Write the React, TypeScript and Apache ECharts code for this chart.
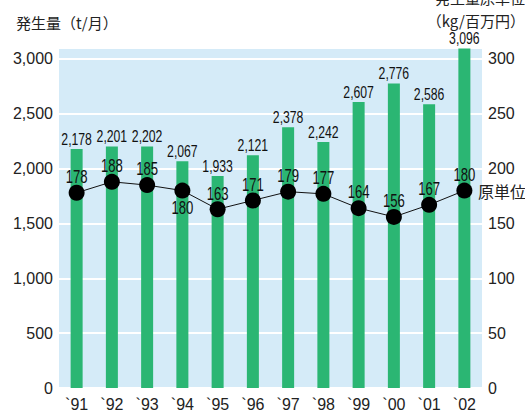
import React, { useEffect, useRef } from "react";
import * as echarts from "echarts";

const categories = ["`91", "`92", "`93", "`94", "`95", "`96", "`97", "`98", "`99", "`00", "`01", "`02"];
const amounts = [2178, 2201, 2202, 2067, 1933, 2121, 2378, 2242, 2607, 2776, 2586, 3096];
const intensity = [178, 188, 185, 180, 163, 171, 179, 177, 164, 156, 167, 180];
const belowLabelIndex = [3];

const NUM_FONT = "'Liberation Sans', Arial, sans-serif";
const JP_FONT = "'Noto Sans CJK JP', sans-serif";

export default function App() {
  const ref = useRef<HTMLDivElement>(null);
  useEffect(() => {
    if (!ref.current) return;
    const chart = echarts.init(ref.current, undefined, { renderer: "svg" });
    const fmt = (v: number) => v.toLocaleString("en-US");
    chart.setOption({
      animation: false,
      grid: {
        left: 59,
        right: 43,
        top: 48,
        bottom: 29,
        show: true,
        backgroundColor: "#d5ebf8",
        borderWidth: 0,
      },
      graphic: [
        {
          type: "text",
          left: 16,
          top: 15,
          style: { text: "発生量（t/月）", fontSize: 15, fontFamily: JP_FONT, fill: "#222" },
        },
        {
          type: "text",
          right: 0,
          top: -10,
          style: { text: "発生量原単位", fontSize: 15, fontFamily: JP_FONT, fill: "#222" },
        },
        {
          type: "text",
          right: 0,
          top: 13,
          style: { text: "（kg/百万円）", fontSize: 15, fontFamily: JP_FONT, fill: "#222" },
        },
        {
          type: "text",
          left: 478,
          top: 183,
          style: { text: "原単位", fontSize: 16, fontFamily: JP_FONT, fill: "#222" },
        },
      ],
      xAxis: {
        type: "category",
        data: categories,
        axisLine: { show: false },
        axisTick: { show: false },
        axisLabel: { fontSize: 16, fontFamily: NUM_FONT, color: "#222", margin: 8 },
      },
      yAxis: [
        {
          type: "value",
          min: 0,
          max: 3100,
          interval: 500,
          axisLine: { show: false },
          axisTick: { show: false },
          axisLabel: {
            fontSize: 16,
            fontFamily: NUM_FONT,
            color: "#222",
            margin: 6,
            showMaxLabel: false,
            formatter: (v: number) => fmt(v),
          },
          splitLine: { show: true, lineStyle: { color: "#ffffff", width: 2 } },
        },
        {
          type: "value",
          min: 0,
          max: 310,
          interval: 50,
          axisLine: { show: false },
          axisTick: { show: false },
          axisLabel: {
            fontSize: 16,
            fontFamily: NUM_FONT,
            color: "#222",
            margin: 6,
            showMaxLabel: false,
          },
          splitLine: { show: false },
        },
      ],
      series: [
        {
          type: "bar",
          data: amounts,
          barWidth: 12,
          itemStyle: { color: "#2bb673" },
          z: 2,
        },
        {
          type: "line",
          yAxisIndex: 1,
          data: intensity,
          symbol: "circle",
          symbolSize: 16,
          lineStyle: { color: "#111", width: 1 },
          itemStyle: { color: "#000" },
          z: 5,
        },
        {
          type: "custom",
          silent: true,
          z: 6,
          data: amounts.map((v, i) => [i, v]),
          renderItem: (params: any, api: any) => {
            const pt = api.coord([api.value(0), api.value(1)]);
            return {
              type: "text",
              x: pt[0],
              y: pt[1] - 10,
              scaleX: 0.72,
              style: {
                text: fmt(api.value(1)),
                fontSize: 17,
                fontFamily: NUM_FONT,
                fill: "#111",
                align: "center",
                verticalAlign: "middle",
              },
            };
          },
        },
        {
          type: "custom",
          silent: true,
          yAxisIndex: 1,
          z: 7,
          data: intensity.map((v, i) => [i, v]),
          renderItem: (params: any, api: any) => {
            const idx = api.value(0);
            const pt = api.coord([idx, api.value(1)]);
            const below = belowLabelIndex.includes(idx);
            return {
              type: "text",
              x: pt[0],
              y: pt[1] + (below ? 17 : -16),
              scaleX: 0.73,
              style: {
                text: String(api.value(1)),
                fontSize: 18,
                fontFamily: NUM_FONT,
                fill: "#111",
                align: "center",
                verticalAlign: "middle",
              },
            };
          },
        },
      ],
    });
    return () => chart.dispose();
  }, []);
  return <div ref={ref} style={{ width: 525, height: 417, position: "absolute", left: 0, top: 0 }} />;
}
